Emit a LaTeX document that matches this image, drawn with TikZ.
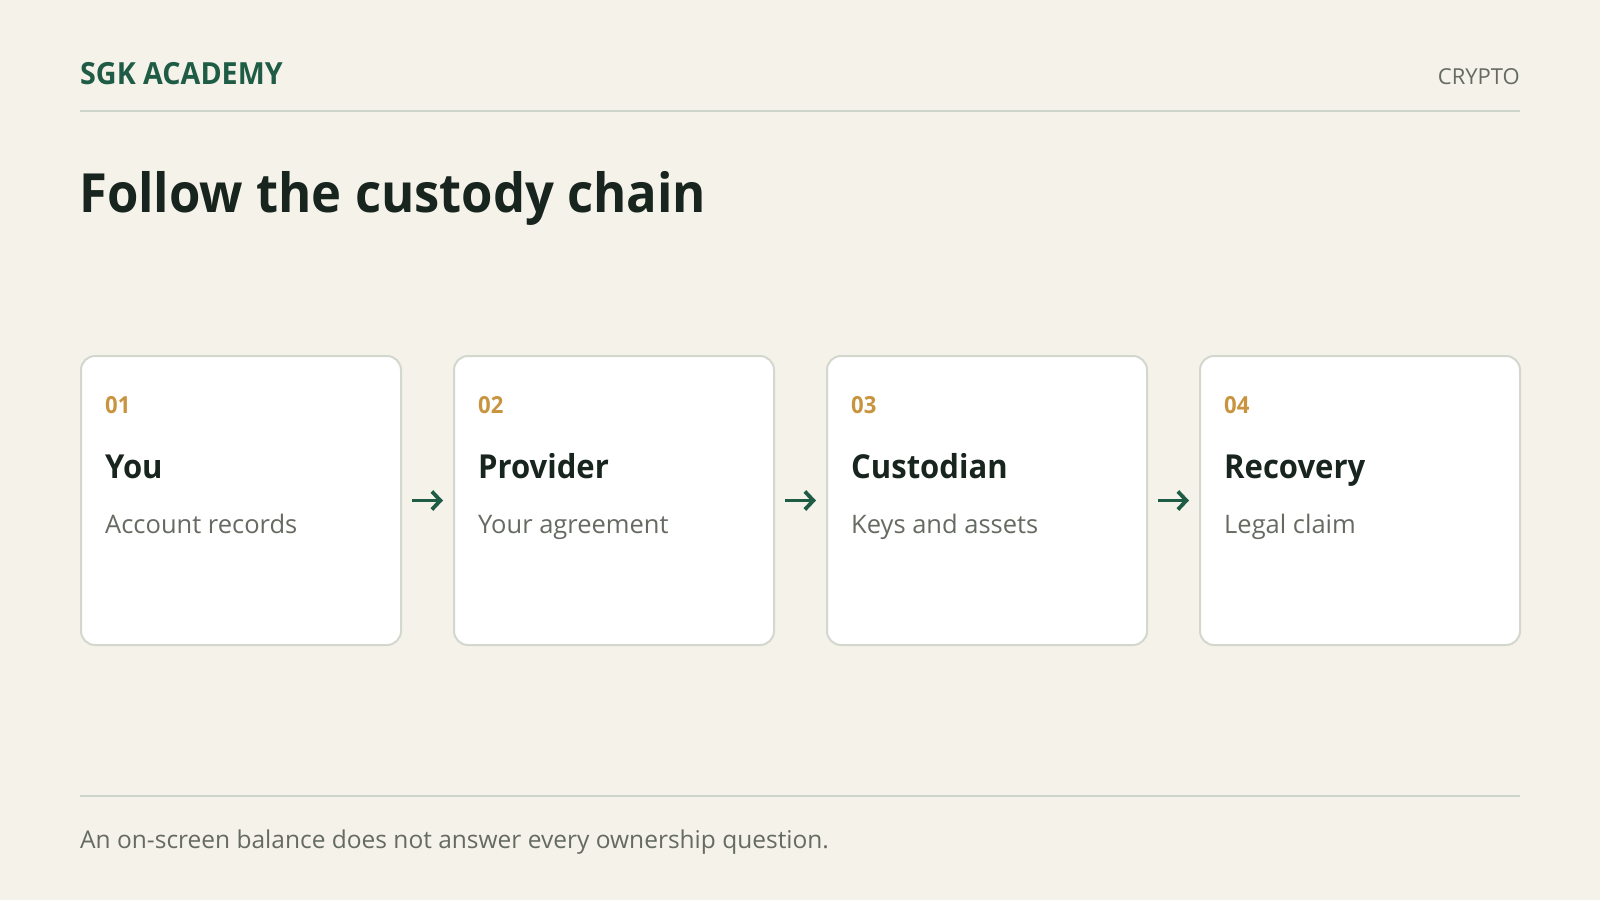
\documentclass[tikz,border=0pt]{standalone}
\usepackage{fontspec}
\setmainfont{Open Sans}[BoldFeatures={FakeStretch=0.94}]
\usetikzlibrary{arrows.meta}
\definecolor{bg}{HTML}{F5F2EA}
\definecolor{brand}{HTML}{1E5C45}
\definecolor{ink}{HTML}{18241E}
\definecolor{muted}{HTML}{666B62}
\definecolor{gold}{HTML}{C9943F}
\definecolor{rulec}{HTML}{CDD4C9}
\definecolor{cardline}{HTML}{D2D8CE}
\tikzset{
  card/.style={draw=cardline, line width=2pt, fill=white, rounded corners=14pt,
    minimum width=320pt, minimum height=289pt, inner sep=0pt},
  txt/.style={inner sep=0pt, anchor=base west},
  numtxt/.style={txt, text=gold, font=\fontsize{23.5}{26}\selectfont\bfseries},
  headtxt/.style={txt, text=ink, font=\fontsize{33}{36}\selectfont\bfseries},
  subtxt/.style={txt, text=muted, font=\fontsize{25.5}{28}\selectfont},
  arr/.style={draw=brand, line width=3.8pt, -{Straight Barb[length=8.5pt,width=18pt,line width=3.8pt]}},
  rulel/.style={draw=rulec, line width=2pt}
}
\begin{document}
\begin{tikzpicture}[x=1pt,y=-1pt]
\useasboundingbox (0,0) rectangle (1600,900);
\fill[bg] (0,0) rectangle (1600,900);
% header
\node[txt, text=brand, font=\fontsize{30.5}{33}\selectfont\bfseries] (brandname) at (80,84) {SGK ACADEMY};
\node[inner sep=0pt, anchor=base east, text=muted, font=\fontsize{22}{25}\selectfont] (topic) at (1520,84) {CRYPTO};
\draw[rulel] (80,111) -- (1520,111);
\node[txt, text=ink, font=\fontsize{54}{60}\selectfont\bfseries] (title) at (79,212) {Follow the custody chain};
% cards
\foreach \i/\x/\n/\h/\s in {1/80/01/You/Account records, 2/453/02/Provider/Your agreement, 3/826/03/Custodian/Keys and assets, 4/1199/04/Recovery/Legal claim}{
  \node[card, anchor=north west] (c\i) at (\x,355) {};
  \node[numtxt] (n\i) at (\x+25,413) {\n};
  \node[headtxt] (h\i) at (\x+25,478) {\h};
  \node[subtxt] (s\i) at (\x+25,533) {\s};
}
\draw[arr] ([xshift=10pt]c1.east) -- ([xshift=-10pt]c2.west);
\draw[arr] ([xshift=10pt]c2.east) -- ([xshift=-10pt]c3.west);
\draw[arr] ([xshift=10pt]c3.east) -- ([xshift=-10pt]c4.west);
% footer
\draw[rulel] (80,795.5) -- (1520,795.5);
\node[txt, text=muted, font=\fontsize{24.5}{28}\selectfont] (foot) at (80,848) {An on-screen balance does not answer every ownership question.};
\end{tikzpicture}
\end{document}
